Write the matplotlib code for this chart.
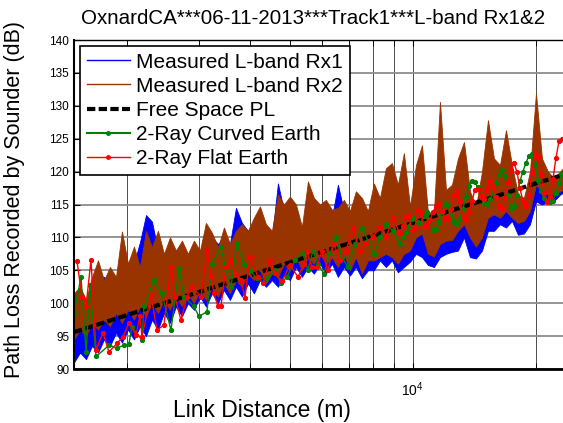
import matplotlib
matplotlib.use('Agg')
import matplotlib.pyplot as plt
from matplotlib.lines import Line2D
from matplotlib.ticker import NullFormatter, FixedLocator
import numpy as np

plt.rcParams['font.family'] = ['Liberation Sans', 'DejaVu Sans']
plt.rcParams['mathtext.fontset'] = 'custom'
plt.rcParams['mathtext.rm'] = 'Liberation Sans'
plt.rcParams['mathtext.it'] = 'Liberation Sans:italic'

# measured data, read as lower / upper envelope (dB) at each distance (m)
dist_meas = [1483, 1534, 1587, 1641, 1698, 1756, 1816, 1879, 1943, 2010,
             2079, 2151, 2225, 2301, 2380, 2462, 2547, 2634, 2725, 2818,
             2915, 3016, 3119, 3227, 3338, 3452, 3571, 3694, 3821, 3952,
             4088, 4229, 4374, 4525, 4680, 4841, 5007, 5180, 5358, 5542,
             5732, 5929, 6133, 6344, 6562, 6788, 7021, 7262, 7512, 7770,
             8037, 8314, 8599, 8895, 9201, 9517, 9849, 10188, 10538, 10900,
             11275, 11663, 12064, 12479, 12908, 13352, 13811, 14286, 14777, 15285,
             15811, 16354, 16917, 17498, 18100, 18722, 19366, 20032, 20720, 21433,
             22170, 22932, 23720]

rx2_hi = [101.5, 102.5, 100.5, 104, 106.5, 103.5, 105.5, 104, 110.9, 106,
          108.6, 105.5, 111, 108.5, 111, 107.5, 110, 108, 109.5, 107.5,
          109.5, 108, 112.2, 110.7, 108.5, 111.5, 109, 111, 112, 111,
          113, 114.7, 112, 111, 116.5, 115, 116.2, 115, 111.6, 118.5,
          116, 115, 115.7, 114.2, 114.5, 115.7, 114, 117, 116, 114,
          118.2, 116, 120.5, 121.3, 118, 122.8, 114.7, 121, 124, 113.7,
          114, 130.6, 117.2, 118, 122, 124.5, 117, 114.7, 120, 127.8,
          122, 121, 126.3, 121, 116.5, 116, 120, 131.9, 122, 120,
          119, 120, 121]
rx2_lo = [94.5, 96, 95, 97, 96, 97.5, 96.5, 98.5, 97, 99,
          97.5, 99.5, 98, 100, 98.5, 100.5, 99, 101, 99.5, 101.5,
          100, 102, 100.5, 102.5, 101, 103, 101.5, 103.5, 102.5, 104.5,
          103.5, 105, 103, 104.5, 104, 106, 105, 107, 105, 107,
          106, 107.5, 106, 107, 105.5, 107.5, 105, 107, 104.5, 106.5,
          106.5, 107, 107.5, 107, 106, 107.5, 108, 110, 110.6, 107.5,
          107.1, 109, 109.5, 109.6, 111, 112, 110, 108.6, 110, 113,
          113.5, 113, 114, 113, 112.2, 112.5, 114, 118, 117, 116.5,
          116.5, 117, 117.5]
rx1_hi = [100, 101, 100, 102, 103, 104, 103, 102.5, 104, 105,
          106, 109.3, 113.4, 112.4, 108, 106, 109.5, 106, 108.5, 107,
          107, 107, 109, 110, 109, 110, 109, 114.5, 112.2, 111,
          111.5, 112, 111, 110, 118.2, 114, 115, 114, 110.5, 116,
          115, 114, 114.5, 113, 118, 114, 113, 114, 114, 113,
          116, 115, 118, 119, 116, 121, 113.5, 119, 122, 113,
          113, 126, 116, 117, 121, 123, 116, 114, 119, 125,
          121, 120, 124, 120, 116, 115.5, 119, 129, 121, 119.5,
          118.5, 119.5, 120]
rx1_lo = [91, 92.5, 91.5, 93.5, 92.5, 94.5, 93.5, 95.5, 94, 96,
          94.5, 96.5, 95, 97.5, 96, 98.5, 97, 99.5, 98, 100,
          99, 101, 99.5, 101.5, 100, 102, 100.5, 102.5, 101, 103,
          101.5, 103.5, 102.5, 103.5, 102.5, 104.3, 103.5, 105.5, 104, 105.5,
          104.5, 106, 104.5, 106, 104, 105.5, 104.2, 105.5, 103.8, 105,
          105, 106.5, 105.5, 106.5, 104.7, 105.5, 106.3, 107.5, 107, 105.8,
          105.5, 107, 107.5, 107.8, 108, 110, 107, 106.8, 108, 111,
          111, 112, 111.5, 112.5, 110.4, 110.6, 112, 115.5, 115, 115.4,
          115.5, 116.5, 117]

# free space path loss
dist_fs = [1483, 2000, 3000, 5000, 10000, 20000, 23900]
fs_pl = [95.6, 98.2, 101.7, 106.2, 112.2, 118.2, 119.7]

# 2-ray flat earth
dist_flat = [1508, 1551, 1587, 1632, 1679, 1746, 1806, 1890, 1954, 2021,
             2103, 2151, 2175, 2288, 2367, 2462, 2561, 2619, 2710, 2802,
             2882, 3033, 3137, 3209, 3264, 3338, 3395, 3491, 3591, 3673,
             3800, 3886, 3997, 4182, 4301, 4474, 4602, 4787, 5007, 5239,
             5419, 5511, 5668, 5830, 5996, 6202, 6416, 6636, 6865, 7141,
             7428, 7683, 7992, 8314, 8599, 8945,
             9305, 9464, 9625, 9789, 9956, 10126, 10298, 10474, 10652, 10834,
             11018, 11206, 11397, 11592, 11789, 11990, 12194, 12402, 12614, 12829,
             13047, 13270, 13496, 13726, 13960, 14198, 14440, 14687, 14937, 15192,
             15451, 15714, 15982, 16255, 16532, 16814, 17101, 17392, 17689, 17991,
             18297, 18609, 18927, 19249, 19578, 19911, 20251, 20596, 20947, 21305,
             21668, 22038, 22413, 22796, 23184, 23580]
flat_pl = [106.4, 101, 99.5, 106.6, 92.9, 95.5, 92.6, 93.9, 94.9, 97,
           95.2, 98, 94.9, 101.2, 95.9, 96.7, 105.5, 101, 97.4, 101,
           102.5, 101, 108.1, 104, 101.5, 99.5, 99.5, 105.5, 106.6, 104.5,
           103.5, 100.8, 107, 104, 103, 106.6, 104.6, 103.3, 105.8, 104,
           106, 107.8, 105.5, 105.5, 108, 105, 109, 106.5, 108, 111.4,
           108, 109.2, 110.1, 111.6, 110, 112.9,
           110.6, 111.8, 113.3, 113.2, 111.2, 111.5, 114.2, 113.5, 111.8, 111.7,
           112.6, 113.8, 114.8, 115.1, 114, 113, 113, 114.3, 116.5, 117,
           115.5, 113.2, 112.7, 113.8, 115.5, 117.2, 117.3, 116.3, 115.8, 117.2,
           118.5, 117.8, 116.2, 114.8, 114.3, 116, 118.2, 120.3, 121.3, 120,
           117.5, 115.5, 114.7, 116.5, 119.8, 122.8, 122.2, 119.5, 116.8, 115.4,
           116.2, 118.8, 122, 124.6, 125, 124]

# 2-ray curved earth
dist_curved = [1483, 1543, 1587, 1623, 1679, 1806, 1890, 1965, 2021, 2056,
               2175, 2200, 2327, 2434, 2561, 2679, 2756, 2915, 2999, 3137,
               3227, 3395, 3491, 3591, 3715, 3864, 3997, 4158, 4399, 4602,
               4760, 4924, 5151, 5388, 5542, 5700, 5863, 6064, 6273, 6488,
               6712, 6942, 7221, 7512, 7770, 8037, 8314, 8599, 8945,
               9305, 9464, 9625, 9789, 9956, 10126, 10298, 10474, 10652, 10834,
               11018, 11206, 11397, 11592, 11789, 11990, 12194, 12402, 12614, 12829,
               13047, 13270, 13496, 13726, 13960, 14198, 14440, 14687, 14937, 15192,
               15451, 15714, 15982, 16255, 16532, 16814, 17101, 17392, 17689, 17991,
               18297, 18609, 18927, 19249, 19578, 19911, 20251, 20596, 20947, 21305,
               21668, 22038, 22413, 22796, 23184, 23580]
curved_pl = [98.5, 104, 92.6, 102.8, 91.9, 93.6, 93.2, 93.6, 93.8, 96.4,
             94.4, 99.5, 103.5, 101.5, 95.9, 105.3, 101, 99.5, 98, 98.7,
             106, 108.6, 105, 102.5, 109.1, 106, 105, 103.8, 103.8, 105,
             103, 104, 106.6, 107.6, 105, 108, 106, 104.5, 107.5, 110,
             107, 105.5, 109, 111.5, 109.5, 107.5, 110, 112, 111,
             109, 110, 110.8, 111.8, 112.8, 113, 112.4, 112.2, 113.3, 113.8,
             112.5, 111.2, 111.3, 112.3, 113.8, 115.2, 115, 113.3, 112.3, 112.1,
             113, 114.3, 116.2, 117.8, 118.5, 118.4, 117.6, 116.2, 115.2, 115.1,
             115.8, 116.8, 118.2, 119.5, 120.2, 119.3, 116.5, 114.3, 114.8, 116.5,
             118.5, 120, 121.3, 122.4, 122.7, 121.2, 118.7, 117, 116, 115.5,
             115.4, 115.6, 116.8, 118.3, 119.6, 120.5]

c_rx1 = '#0000ff'
c_rx2 = '#993300'
c_curved = '#008000'
c_flat = '#ff0000'

fig = plt.figure(figsize=(5.63, 4.23), dpi=100)
ax = fig.add_axes([74/563, 1-369/423, 493/563, 329/423])

ax.fill_between(dist_meas, rx1_lo, rx1_hi, color=c_rx1, lw=0.6)
ax.fill_between(dist_meas, rx2_lo, rx2_hi, color=c_rx2, lw=0.6)
ax.plot(dist_fs, fs_pl, color='k', lw=3, dashes=(2, 0.8))
ax.plot(dist_curved, curved_pl, color=c_curved, lw=1, marker='.', ms=5.5)
ax.plot(dist_flat, flat_pl, color=c_flat, lw=1, marker='.', ms=5.5)

ax.set_xscale('log')
ax.set_xlim(1483, 23860)
ax.set_ylim(90, 140)
ax.set_yticks(np.arange(90, 141, 5))
ax.xaxis.set_major_locator(FixedLocator([1e4]))
ax.xaxis.set_minor_locator(FixedLocator([2000, 3000, 4000, 5000, 6000, 7000, 8000, 9000, 20000]))
ax.xaxis.set_minor_formatter(NullFormatter())
ax.set_xticklabels([r'$10^{4}$'])

ax.grid(True, axis='y', color='0.55', lw=1.3)
ax.grid(True, axis='x', which='both', color='0.3', lw=0.7)
ax.set_axisbelow(True)

ax.tick_params(which='both', direction='in', top=True, right=False, labelsize=8.5, length=4)
ax.tick_params(axis='x', labelsize=10, pad=8)
ax.spines['right'].set_visible(False)
ax.spines['bottom'].set_linewidth(2)
ax.spines['left'].set_linewidth(1.5)
ax.spines['top'].set_linewidth(1)

handles = [Line2D([], [], color=c_rx1, lw=1),
           Line2D([], [], color=c_rx2, lw=1),
           Line2D([], [], color='k', lw=3, dashes=(2, 0.8)),
           Line2D([], [], color=c_curved, lw=1.5, marker='.', ms=5),
           Line2D([], [], color=c_flat, lw=1, marker='.', ms=5)]
labels = ['Measured L-band Rx1', 'Measured L-band Rx2', 'Free Space PL',
          '2-Ray Curved Earth', '2-Ray Flat Earth']
leg = ax.legend(handles, labels, loc='upper left', fontsize=15, numpoints=1,
                fancybox=False, framealpha=1, edgecolor='k', labelspacing=0.25,
                handlelength=2.1, handletextpad=0.3, borderpad=0.3,
                borderaxespad=0.3)
leg.get_frame().set_linewidth(1.2)

fig.text(313/563, 1-18/423, 'OxnardCA***06-11-2013***Track1***L-band Rx1&2',
         ha='center', va='center', fontsize=14.8)
fig.text(262/563, 1-410/423, 'Link Distance (m)', ha='center', va='center', fontsize=16.5)
fig.text(15/563, 1-200/423, 'Path Loss Recorded by Sounder (dB)', ha='center',
         va='center', rotation=90, fontsize=15.5)

fig.savefig('out.png', dpi=100)
